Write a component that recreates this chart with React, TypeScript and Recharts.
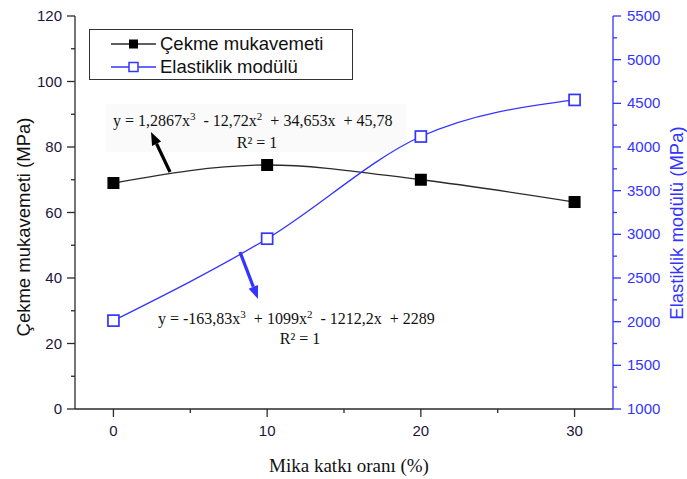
import React from "react";
import { ComposedChart, Line, XAxis, YAxis, Legend, Customized } from "recharts";

// ---- data ----
const mikaOrani = [0, 10, 20, 30];
const cekmeMukavemeti = [69.0, 74.5, 70.0, 63.2];
const elastiklikModulu = [2012, 2950, 4120, 4539];

const xTicks = [0, 5, 10, 15, 20, 25, 30];
const leftTicks = [0, 10, 20, 30, 40, 50, 60, 70, 80, 90, 100, 110, 120];
const rightTicks = [1000, 1250, 1500, 1750, 2000, 2250, 2500, 2750, 3000, 3250, 3500, 3750, 4000, 4250, 4500, 4750, 5000, 5250, 5500];

const seriesNames = ["Çekme mukavemeti", "Elastiklik modülü"];
const xTitle = "Mika katkı oranı (%)";
const leftTitle = "Çekme mukavemeti (MPa)";
const rightTitle = "Elastiklik modülü (MPa)";

const data = mikaOrani.map((x, i) => ({ x, cekme: cekmeMukavemeti[i], elastik: elastiklikModulu[i] }));

const BLUE = "#3434ff";
const DARK = "#2a2a2a";
const SANS = "Arial, 'Liberation Sans', sans-serif";
const SERIF = "'Times New Roman', 'Liberation Serif', serif";

const LeftTick = (p: any) => {
  const v = p.payload.value;
  const major = v % 20 === 0;
  return (
    <g>
      <line x1={p.x} x2={p.x - (major ? 8 : 4)} y1={p.y} y2={p.y} stroke={DARK} strokeWidth={1.3} />
      {major && (
        <text x={p.x - 13} y={p.y} dy={5} textAnchor="end" fontSize={15} fontFamily={SANS} fill="#1c1440">
          {v}
        </text>
      )}
    </g>
  );
};

const RightTick = (p: any) => {
  const v = p.payload.value;
  const major = v % 500 === 0;
  return (
    <g>
      <line x1={p.x} x2={p.x + (major ? 8 : 4)} y1={p.y} y2={p.y} stroke={BLUE} strokeWidth={1.3} />
      {major && (
        <text x={p.x + 14} y={p.y} dy={5} textAnchor="start" fontSize={15} fontFamily={SANS} fill={BLUE}>
          {v}
        </text>
      )}
    </g>
  );
};

const BottomTick = (p: any) => {
  const v = p.payload.value;
  const major = v % 10 === 0;
  return (
    <g>
      <line x1={p.x} x2={p.x} y1={p.y} y2={p.y + (major ? 8 : 4)} stroke={DARK} strokeWidth={1.3} />
      {major && (
        <text x={p.x} y={p.y + 27} textAnchor="middle" fontSize={15} fontFamily={SANS} fill="#1c1440">
          {v}
        </text>
      )}
    </g>
  );
};

const TopTick = (p: any) => {
  const v = p.payload.value;
  const major = v % 10 === 0;
  return <line x1={p.x} x2={p.x} y1={p.y} y2={p.y + (major ? 8 : 4)} stroke={DARK} strokeWidth={1.3} />;
};

const BlackDot = (p: any) => {
  if (p.cx == null || p.cy == null) return null;
  return <rect key={"b" + p.index} x={p.cx - 6} y={p.cy - 6} width={12} height={12} fill="#000" />;
};
const BlueDot = (p: any) => {
  if (p.cx == null || p.cy == null) return null;
  return <rect key={"u" + p.index} x={p.cx - 5.5} y={p.cy - 5.5} width={11} height={11} fill="#fff" stroke={BLUE} strokeWidth={1.7} />;
};

const Arrow = ({ x1, y1, x2, y2, color, width }: any) => {
  const dx = x2 - x1, dy = y2 - y1;
  const len = Math.sqrt(dx * dx + dy * dy);
  const ux = dx / len, uy = dy / len;
  const hl = 13, hw = 5;
  const bx = x2 - ux * hl, by = y2 - uy * hl;
  const pts = `${x2},${y2} ${bx - uy * hw},${by + ux * hw} ${bx + uy * hw},${by - ux * hw}`;
  return (
    <g>
      <line x1={x1} y1={y1} x2={bx} y2={by} stroke={color} strokeWidth={width} />
      <polygon points={pts} fill={color} />
    </g>
  );
};

const Annotations = () => (
  <g>
    <rect x={106} y={104} width={300} height={48} fill="#fafafa" />
    <text x={113} y={126} fontSize={16} fontFamily={SERIF} fill="#111" style={{ whiteSpace: "pre" }}>
      <tspan>y = 1,2867x</tspan>
      <tspan dy={-6} fontSize={11}>3</tspan>
      <tspan dy={6}>  - 12,72x</tspan>
      <tspan dy={-6} fontSize={11}>2</tspan>
      <tspan dy={6}>  + 34,653x  + 45,78</tspan>
    </text>
    <text x={257} y={148} textAnchor="middle" fontSize={16} fontFamily={SERIF} fill="#111">
      <tspan>R² = 1</tspan>
    </text>
    <text x={158} y={324} fontSize={16} fontFamily={SERIF} fill="#111" style={{ whiteSpace: "pre" }}>
      <tspan>y = -163,83x</tspan>
      <tspan dy={-6} fontSize={11}>3</tspan>
      <tspan dy={6}>  + 1099x</tspan>
      <tspan dy={-6} fontSize={11}>2</tspan>
      <tspan dy={6}>  - 1212,2x  + 2289</tspan>
    </text>
    <text x={300} y={344} textAnchor="middle" fontSize={16} fontFamily={SERIF} fill="#111">
      R² = 1
    </text>
    <Arrow x1={170} y1={172} x2={151} y2={132} color="#000" width={3.2} />
    <Arrow x1={240} y1={252} x2={258} y2={299} color={BLUE} width={3.2} />
    <text x={349} y={472} textAnchor="middle" fontSize={19} fontFamily={SERIF} fill="#111">
      {xTitle}
    </text>
    <text x={0} y={0} dy="0.35em" transform="translate(24,227) rotate(-90)" textAnchor="middle" fontSize={18.5} fontFamily={SANS} fill="#111">
      {leftTitle}
    </text>
    <text x={0} y={0} dy="0.35em" transform="translate(677,223) rotate(-90)" textAnchor="middle" fontSize={18.5} fontFamily={SANS} fill={BLUE}>
      {rightTitle}
    </text>
  </g>
);

const LegendBox = () => (
  <div
    style={{
      boxSizing: "border-box",
      width: 264,
      height: 51,
      border: "1.3px solid #333",
      background: "#fff",
      fontFamily: SANS,
      fontSize: 18.5,
      color: "#111",
      paddingTop: 2,
    }}
  >
    {seriesNames.map((name, i) => (
      <div key={name} style={{ display: "flex", alignItems: "center", height: 23, lineHeight: "23px" }}>
        <svg width={70} height={20} style={{ display: "block" }}>
          <line x1={21} x2={66} y1={10} y2={10} stroke={i === 0 ? DARK : BLUE} strokeWidth={1.3} />
          {i === 0 ? (
            <rect x={39} y={5.5} width={9} height={9} fill="#000" />
          ) : (
            <rect x={39} y={5.5} width={9} height={9} fill="#fff" stroke={BLUE} strokeWidth={1.5} />
          )}
        </svg>
        <span>{name}</span>
      </div>
    ))}
  </div>
);

export default function App() {
  return (
    <div style={{ position: "absolute", left: 0, top: 0, width: 687, height: 479, background: "#fff" }}>
      <ComposedChart width={687} height={479} data={data} margin={{ top: 16, right: 0, bottom: 0, left: 0 }}>
        <XAxis
          xAxisId="b"
          dataKey="x"
          type="number"
          domain={[-2.5, 32.5]}
          allowDataOverflow
          ticks={xTicks}
          interval={0}
          height={70}
          tickSize={0}
          tickMargin={0}
          tickLine={false}
          tick={<BottomTick />}
          axisLine={{ stroke: DARK, strokeWidth: 1.3 }}
        />
        <XAxis
          xAxisId="t"
          orientation="top"
          dataKey="x"
          type="number"
          domain={[-2.5, 32.5]}
          allowDataOverflow
          ticks={xTicks}
          interval={0}
          height={0}
          tickSize={0}
          tickMargin={0}
          tickLine={false}
          tick={<TopTick />}
          axisLine={{ stroke: DARK, strokeWidth: 1.3 }}
        />
        <YAxis
          yAxisId="L"
          orientation="left"
          type="number"
          domain={[0, 120]}
          ticks={leftTicks}
          interval={0}
          width={75}
          tickSize={0}
          tickMargin={0}
          tickLine={false}
          tick={<LeftTick />}
          axisLine={{ stroke: DARK, strokeWidth: 1.3 }}
        />
        <YAxis
          yAxisId="R"
          orientation="right"
          type="number"
          domain={[1000, 5500]}
          ticks={rightTicks}
          interval={0}
          width={74}
          tickSize={0}
          tickMargin={0}
          tickLine={false}
          tick={<RightTick />}
          axisLine={{ stroke: BLUE, strokeWidth: 1.3 }}
        />
        <Legend
          layout="horizontal"
          verticalAlign="middle"
          align="center"
          content={() => <LegendBox />}
          wrapperStyle={{ left: 89, top: 29, width: 264, height: 51 }}
        />
        <Customized component={Annotations} />
        <Line
          xAxisId="b"
          yAxisId="L"
          dataKey="cekme"
          name={seriesNames[0]}
          type="monotone"
          stroke={DARK}
          strokeWidth={1.3}
          dot={<BlackDot />}
          isAnimationActive={false}
        />
        <Line
          xAxisId="b"
          yAxisId="R"
          dataKey="elastik"
          name={seriesNames[1]}
          type="monotone"
          stroke={BLUE}
          strokeWidth={1.3}
          dot={<BlueDot />}
          isAnimationActive={false}
        />
      </ComposedChart>
    </div>
  );
}
